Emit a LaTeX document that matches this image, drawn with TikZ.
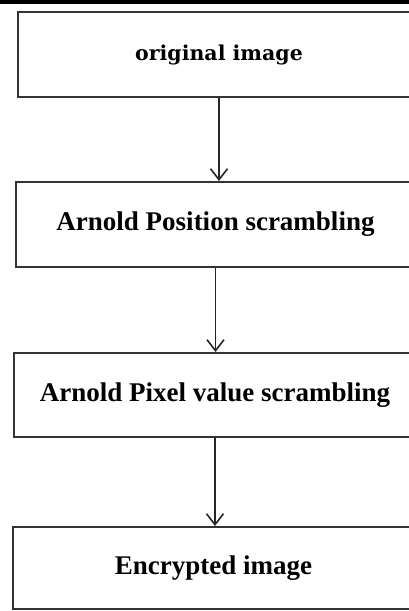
\documentclass[tikz,border=0pt]{standalone}
\usepackage{fontspec}
\setmainfont{Liberation Serif}
\newfontfamily\headfont{DejaVu Serif}
\usetikzlibrary{arrows.meta}

\tikzset{
  stage/.style={draw=black!80, line width=2pt, fill=white, inner sep=0pt,
    font=\fontsize{27}{30}\selectfont\bfseries},
  flow/.style={draw=black!85, line width=1.6pt,
    -{Straight Barb[length=11pt, width=17pt, line width=1.6pt]}}
}

\begin{document}
\begin{tikzpicture}[x=1pt, y=-1pt]
  \useasboundingbox (0,0) rectangle (409,611);
  \clip (0,0) rectangle (409,611);
  \fill[white] (0,0) rectangle (409,611);
  % dark strip along the top edge
  \fill[black] (0,0) rectangle (409,3.5);

  \node[stage, minimum width=402pt, minimum height=85pt,
        font=\headfont\fontsize{20.5}{24}\selectfont\bfseries]
        (orig) at (219,54.5) {original image};
  \node[stage, minimum width=399pt, minimum height=85pt]
        (pos) at (215.5,224.5) {Arnold Position scrambling};
  \node[stage, minimum width=402pt, minimum height=84pt]
        (pix) at (215,395) {Arnold Pixel value scrambling};
  \node[stage, minimum width=401pt, minimum height=82pt]
        (enc) at (213.5,568) {Encrypted image};

  \draw[flow] (orig.south) -- (orig.south |- pos.north);
  \draw[flow] (pos.south) -- (pos.south |- pix.north);
  \draw[flow] (pix.south) -- (pix.south |- enc.north);
\end{tikzpicture}
\end{document}
